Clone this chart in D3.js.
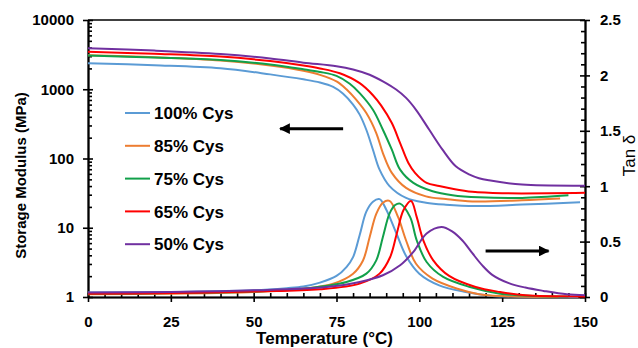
<!DOCTYPE html>
<html>
<head>
<meta charset="utf-8">
<script src="https://cdn.jsdelivr.net/npm/d3@7"></script>
<style>
  body { margin: 0; background: #fff; }
  svg { display: block; font-family: "Liberation Sans", Arial, sans-serif; }
  .axis path, .axis line { stroke: #000; stroke-width: 1.6px; }
  .axis text { font-size: 15px; font-weight: bold; fill: #000; }
  .line { fill: none; stroke-width: 2px; }
</style>
</head>
<body>
<script>
// series labels and colours
var series = ["100% Cys", "85% Cys", "75% Cys", "65% Cys", "50% Cys"];
var colors = ["#5B9BD5", "#ED7D31", "#11A04A", "#FF0000", "#7030A0"];

// storage modulus (MPa) vs temperature (°C)
var modT100 = [0, 20, 40, 55, 65, 70, 74, 77, 80, 82, 84, 86, 88, 91, 96, 102, 108, 117, 131, 148.5];
var mod100  = [2380, 2230, 2015, 1640, 1390, 1250, 1080, 860, 600, 430, 260, 134, 69, 40, 27, 23, 21.5, 20.6, 21.6, 23.3];
var modT85  = [0, 20, 40, 55, 65, 70, 75, 78, 81, 84, 87, 89, 91.7, 96, 102, 108, 116, 131, 142.5];
var mod85   = [3100, 2900, 2600, 2200, 1850, 1615, 1300, 1000, 700, 453, 233, 120, 62, 37.6, 28.4, 26, 24, 24.9, 26.4];
var modT75  = [0, 20, 40, 55, 65, 70, 75, 79, 82, 86, 89, 91.7, 94.2, 98.2, 104, 110, 118, 131, 145];
var mod75   = [3060, 2880, 2655, 2280, 1950, 1780, 1560, 1200, 879, 505, 260, 134, 69, 44.4, 33.6, 29.5, 27.5, 27, 29.4];
var modT65  = [0, 20, 40, 55, 65, 70, 76, 82, 86, 88.5, 91.7, 94.2, 96.7, 98.7, 102.2, 106, 110, 116, 125, 150];
var mod65   = [3490, 3250, 2960, 2550, 2200, 2000, 1700, 1224, 820, 580, 325, 167, 86, 62, 44.4, 40, 36.5, 33, 31.5, 31.9];
var modT50  = [0, 20, 40, 55, 65, 75, 80, 85, 89, 93, 96, 99, 103, 107, 111, 115, 118, 121, 131, 150];
var mod50   = [3910, 3620, 3230, 2780, 2420, 2150, 1930, 1620, 1300, 990, 750, 505, 260, 134, 77, 59, 52, 48.5, 42, 40.5];

// tan delta vs temperature
var tanT100 = [0, 25, 50, 60, 65, 70, 75, 78, 80, 82, 84, 86, 88, 90, 93, 96, 100, 106, 114, 122, 130, 148];
var tan100  = [0.04, 0.045, 0.06, 0.08, 0.095, 0.13, 0.19, 0.27, 0.36, 0.56, 0.77, 0.86, 0.883, 0.79, 0.58, 0.37, 0.21, 0.105, 0.045, 0.01, 0.003, 0];
var tanT85  = [0, 25, 50, 65, 74, 80, 83, 85, 87, 89, 91, 93.6, 96, 99, 104, 112, 118, 125, 142];
var tan85   = [0.025, 0.03, 0.045, 0.075, 0.12, 0.21, 0.33, 0.54, 0.75, 0.85, 0.867, 0.72, 0.51, 0.3, 0.166, 0.07, 0.025, 0.008, 0];
var tanT75  = [0, 25, 50, 65, 78, 84, 87, 89, 91, 92.7, 94.2, 97.2, 99.2, 102.2, 107.2, 115.3, 124.4, 135, 145];
var tan75   = [0.03, 0.035, 0.05, 0.075, 0.136, 0.211, 0.331, 0.542, 0.753, 0.83, 0.843, 0.723, 0.512, 0.316, 0.181, 0.09, 0.03, 0.01, 0.005];
var tanT65  = [0, 25, 50, 70, 82, 88, 91.2, 93.2, 95.2, 97.5, 99.2, 101.2, 104.2, 109, 117, 124.4, 132, 150];
var tan65   = [0.03, 0.035, 0.05, 0.07, 0.121, 0.211, 0.361, 0.573, 0.783, 0.867, 0.723, 0.512, 0.331, 0.19, 0.09, 0.045, 0.015, 0.005];
var tanT50  = [0, 25, 50, 72, 82, 89, 94.2, 98.2, 102.2, 106.7, 110, 113, 116, 119, 122, 127, 132, 137.5, 144.5, 150];
var tan50   = [0.04, 0.045, 0.06, 0.09, 0.136, 0.196, 0.286, 0.407, 0.573, 0.632, 0.59, 0.51, 0.395, 0.285, 0.2, 0.125, 0.085, 0.055, 0.024, 0.015];

var xTicks = [0, 25, 50, 75, 100, 125, 150];
var yLeftTicks = [1, 10, 100, 1000, 10000];
var yRightTicks = [0, 0.5, 1, 1.5, 2, 2.5];

var modTemps = [modT100, modT85, modT75, modT65, modT50];
var modVals = [mod100, mod85, mod75, mod65, mod50];
var tanTemps = [tanT100, tanT85, tanT75, tanT65, tanT50];
var tanVals = [tan100, tan85, tan75, tan65, tan50];

var margin = {top: 20, right: 53, bottom: 51, left: 88},
    width = 638 - margin.left - margin.right,
    height = 348 - margin.top - margin.bottom;

var x = d3.scaleLinear().domain([0, 150]).range([0, width]);
var yL = d3.scaleLog().domain([1, 10000]).range([height, 0]);
var yR = d3.scaleLinear().domain([0, 2.5]).range([height, 0]);

var svg = d3.select("body").append("svg")
    .attr("width", 638)
    .attr("height", 348)
  .append("g")
    .attr("transform", "translate(" + margin.left + "," + margin.top + ")");

// minor tick values
var xMinor = d3.range(0, 151, 5).filter(function(d) { return d % 25 != 0; });
var yLMinor = [];
[1, 10, 100, 1000].forEach(function(p) {
  for (var k = 2; k < 10; k++) yLMinor.push(p * k);
});
var yRMinor = d3.range(0, 26).map(function(d) { return d / 10; })
    .filter(function(d) { return Math.round(d * 10) % 5 != 0; });

// top border
svg.append("line")
    .attr("x1", 0).attr("x2", width)
    .attr("y1", 0).attr("y2", 0)
    .style("stroke", "#000").style("stroke-width", "1.6px");

// x axis
svg.append("g")
    .attr("class", "x axis")
    .attr("transform", "translate(0," + height + ")")
    .call(d3.axisBottom(x).tickValues(xTicks).tickSize(5).tickSizeOuter(0).tickPadding(14));
svg.append("g")
    .attr("class", "axis")
    .attr("transform", "translate(0," + height + ")")
    .call(d3.axisTop(x).tickValues(xTicks).tickSize(4).tickSizeOuter(0).tickFormat(""));
svg.append("g")
    .attr("class", "axis")
    .attr("transform", "translate(0," + height + ")")
    .call(d3.axisTop(x).tickValues(xMinor).tickSize(4).tickSizeOuter(0).tickFormat(""));

// left axis
svg.append("g")
    .attr("class", "y axis")
    .call(d3.axisLeft(yL).tickValues(yLeftTicks).tickFormat(d3.format("d")).tickSize(5).tickSizeOuter(0).tickPadding(9));
svg.append("g")
    .attr("class", "axis")
    .call(d3.axisRight(yL).tickValues(yLeftTicks).tickSize(5).tickSizeOuter(0).tickFormat(""));
svg.append("g")
    .attr("class", "axis")
    .call(d3.axisRight(yL).tickValues(yLMinor).tickSize(4).tickSizeOuter(0).tickFormat(""));

// right axis
svg.append("g")
    .attr("class", "y2 axis")
    .attr("transform", "translate(" + width + ",0)")
    .call(d3.axisRight(yR).tickValues(yRightTicks).tickFormat(d3.format("")).tickSize(5).tickSizeOuter(0).tickPadding(10));
svg.append("g")
    .attr("class", "axis")
    .attr("transform", "translate(" + width + ",0)")
    .call(d3.axisLeft(yR).tickValues(yRightTicks).tickSize(5).tickSizeOuter(0).tickFormat(""));
svg.append("g")
    .attr("class", "axis")
    .attr("transform", "translate(" + width + ",0)")
    .call(d3.axisLeft(yR).tickValues(yRMinor).tickSize(4).tickSizeOuter(0).tickFormat(""));

// axis titles
svg.append("text")
    .attr("x", width / 2 - 12)
    .attr("y", height + 47)
    .style("text-anchor", "middle")
    .style("font-size", "17px")
    .style("font-weight", "bold")
    .text("Temperature (°C)");

svg.append("text")
    .attr("transform", "translate(" + (26 - margin.left) + "," + (height / 2 + 17) + ") rotate(-90)")
    .style("text-anchor", "middle")
    .style("font-size", "15px")
    .style("font-weight", "bold")
    .text("Storage Modulus (MPa)");

svg.append("text")
    .attr("transform", "translate(" + (width + 50) + "," + (height / 2 - 3) + ") rotate(-90)")
    .style("text-anchor", "middle")
    .style("font-size", "17px")
    .text("Tan δ");

// curves
var modLine = d3.line()
    .x(function(d) { return x(d[0]); })
    .y(function(d) { return yL(d[1]); })
    .curve(d3.curveCatmullRom.alpha(0.5));

var tanLine = d3.line()
    .x(function(d) { return x(d[0]); })
    .y(function(d) { return yR(d[1]); })
    .curve(d3.curveCatmullRom.alpha(0.5));

series.forEach(function(s, i) {
  svg.append("path")
      .attr("class", "line")
      .attr("d", modLine(d3.zip(modTemps[i], modVals[i])))
      .style("stroke", colors[i]);
});
series.forEach(function(s, i) {
  svg.append("path")
      .attr("class", "line")
      .attr("d", tanLine(d3.zip(tanTemps[i], tanVals[i])))
      .style("stroke", colors[i]);
});

// arrows
svg.append("defs").append("marker")
    .attr("id", "head")
    .attr("viewBox", "0 0 10 10")
    .attr("refX", 9).attr("refY", 5)
    .attr("markerWidth", 3.6).attr("markerHeight", 3.6)
    .attr("markerUnits", "strokeWidth")
    .attr("orient", "auto")
  .append("path")
    .attr("d", "M0,0 L10,5 L0,10 z")
    .style("fill", "#000");

svg.append("line")
    .attr("x1", x(77)).attr("y1", yL(270))
    .attr("x2", x(58)).attr("y2", yL(270))
    .style("stroke", "#000").style("stroke-width", "3px")
    .attr("marker-end", "url(#head)");

svg.append("line")
    .attr("x1", x(120)).attr("y1", yR(0.415))
    .attr("x2", x(139)).attr("y2", yR(0.415))
    .style("stroke", "#000").style("stroke-width", "3px")
    .attr("marker-end", "url(#head)");

// legend
var legend = svg.selectAll(".legend")
    .data(series)
  .enter().append("g")
    .attr("class", "legend")
    .attr("transform", function(d, i) { return "translate(" + 37 + "," + (93 + i * 32.8) + ")"; });

legend.append("line")
    .attr("x1", 0).attr("x2", 25)
    .style("stroke", function(d, i) { return colors[i]; })
    .style("stroke-width", "2px");

legend.append("text")
    .attr("x", 29)
    .attr("dy", "0.36em")
    .style("font-size", "17px")
    .style("font-weight", "bold")
    .text(function(d) { return d; });
</script>
</body>
</html>
